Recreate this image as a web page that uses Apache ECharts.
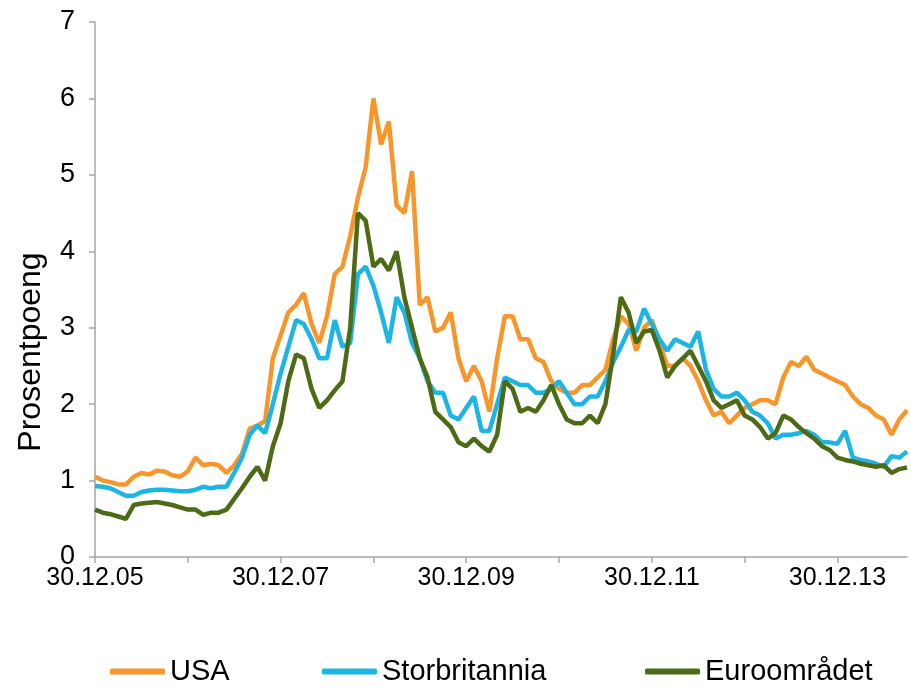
<!DOCTYPE html>
<html>
<head>
<meta charset="utf-8">
<script src="https://cdn.jsdelivr.net/npm/echarts@6/dist/echarts.min.js"></script>
<style>
  html, body { margin: 0; padding: 0; background: #fff; }
  #chart { width: 911px; height: 692px; }
</style>
</head>
<body>
<div id="chart"></div>
<script>
// monthly observations, first point 30.12.05
const startYear = 2005
const dates = []
for (let i = 0; i < 106; i++) {
  const m = (11 + i) % 12 + 1
  const y = startYear + Math.floor((11 + i) / 12)
  dates.push('30.' + String(m).padStart(2, '0') + '.' + String(y % 100).padStart(2, '0'))
}

const usa = [
  1.05, 1.00, 0.98, 0.95, 0.95, 1.05, 1.10, 1.08, 1.13, 1.12, 1.07, 1.05,
  1.12, 1.30, 1.20, 1.22, 1.20, 1.10, 1.20, 1.35, 1.68, 1.72, 1.78, 2.60,
  2.90, 3.20, 3.30, 3.45, 3.05, 2.80, 3.15, 3.70, 3.80, 4.20, 4.70, 5.10,
  6.00, 5.40, 5.70, 4.60, 4.50, 5.05, 3.30, 3.40, 2.95, 3.00, 3.20, 2.60,
  2.30, 2.50, 2.30, 1.90, 2.60, 3.15, 3.15, 2.85, 2.85, 2.60, 2.55, 2.30,
  2.20, 2.15, 2.15, 2.25, 2.25, 2.35, 2.45, 2.85, 3.15, 3.05, 2.70, 3.00,
  3.10, 2.80, 2.50, 2.50, 2.60, 2.50, 2.30, 2.05, 1.85, 1.90, 1.75, 1.85,
  1.95, 2.00, 2.05, 2.05, 2.00, 2.35, 2.55, 2.50, 2.62, 2.45, 2.40, 2.35,
  2.30, 2.25, 2.10, 2.00, 1.95, 1.85, 1.80, 1.60, 1.80, 1.92
]
const storbritannia = [
  0.93, 0.92, 0.90, 0.85, 0.80, 0.80, 0.85, 0.87, 0.88, 0.88, 0.87, 0.86,
  0.86, 0.88, 0.92, 0.90, 0.92, 0.92, 1.10, 1.30, 1.60, 1.72, 1.62, 2.00,
  2.40, 2.75, 3.10, 3.05, 2.85, 2.60, 2.60, 3.10, 2.75, 2.80, 3.70, 3.80,
  3.55, 3.20, 2.80, 3.40, 3.20, 2.80, 2.60, 2.30, 2.15, 2.15, 1.85, 1.80,
  1.95, 2.10, 1.65, 1.65, 2.00, 2.35, 2.30, 2.25, 2.25, 2.15, 2.15, 2.20,
  2.30, 2.15, 2.00, 2.00, 2.10, 2.10, 2.30, 2.55, 2.75, 2.97, 2.95, 3.25,
  3.05, 2.85, 2.70, 2.85, 2.80, 2.75, 2.95, 2.45, 2.20, 2.10, 2.10, 2.15,
  2.05, 1.90, 1.85, 1.75, 1.55, 1.60, 1.60, 1.62, 1.65, 1.60, 1.50, 1.50,
  1.48, 1.65, 1.30, 1.27, 1.25, 1.22, 1.18, 1.32, 1.30, 1.38
]
const euroomradet = [
  0.62, 0.58, 0.56, 0.53, 0.50, 0.68, 0.70, 0.71, 0.72, 0.70, 0.68, 0.65,
  0.62, 0.62, 0.55, 0.58, 0.58, 0.62, 0.76, 0.90, 1.05, 1.18, 1.00, 1.45,
  1.75, 2.30, 2.65, 2.60, 2.20, 1.95, 2.05, 2.18, 2.30, 3.00, 4.50, 4.40,
  3.80, 3.90, 3.75, 4.00, 3.40, 3.00, 2.60, 2.35, 1.90, 1.80, 1.70, 1.50,
  1.45, 1.55, 1.45, 1.38, 1.60, 2.30, 2.20, 1.90, 1.95, 1.90, 2.05, 2.25,
  2.00, 1.80, 1.75, 1.75, 1.85, 1.75, 2.00, 2.65, 3.40, 3.20, 2.80, 2.95,
  2.97, 2.70, 2.35, 2.50, 2.60, 2.70, 2.50, 2.30, 2.05, 1.95, 2.00, 2.05,
  1.85, 1.80, 1.70, 1.55, 1.62, 1.85, 1.80, 1.70, 1.62, 1.55, 1.45, 1.40,
  1.30, 1.27, 1.25, 1.22, 1.20, 1.18, 1.20, 1.10, 1.15, 1.17
]

const font = '"Liberation Sans", Arial, sans-serif'
const axisGrey = '#A6A6A6'

const chart = echarts.init(document.getElementById('chart'))

function legendAt(name, left) {
  return {
    data: [name],
    left: left,
    top: 652,
    icon: 'roundRect',
    itemWidth: 55,
    itemHeight: 6,
    itemGap: 5,
    textStyle: { fontFamily: font, fontSize: 29, color: '#000' }
  }
}

chart.setOption({
  animation: false,
  grid: { left: 95, right: 4, top: 22, bottom: 135 },
  legend: [
    legendAt('USA', 105),
    legendAt('Storbritannia', 317),
    legendAt('Euroområdet', 640)
  ],
  graphic: [{
    type: 'text',
    x: 31,
    y: 352,
    rotation: Math.PI / 2,
    style: {
      text: 'Prosentpoeng',
      fontFamily: font,
      fontSize: 32,
      fill: '#000',
      align: 'center',
      verticalAlign: 'middle'
    }
  }],
  xAxis: {
    type: 'category',
    data: dates,
    boundaryGap: false,
    axisLine: { lineStyle: { color: axisGrey, width: 1.5 } },
    axisTick: {
      interval: (i) => i % 12 === 0,
      length: 6,
      lineStyle: { color: axisGrey, width: 1.5 }
    },
    axisLabel: {
      interval: (i) => i % 24 === 0,
      fontFamily: font,
      fontSize: 25,
      color: '#000',
      margin: 9
    },
    splitLine: { show: false }
  },
  yAxis: {
    type: 'value',
    min: 0,
    max: 7,
    interval: 1,
    axisLine: { show: true, lineStyle: { color: axisGrey, width: 1.5 } },
    axisTick: { show: true, length: 6, lineStyle: { color: axisGrey, width: 1.5 } },
    axisLabel: { fontFamily: font, fontSize: 27, color: '#000', margin: 20 },
    splitLine: { show: false }
  },
  series: [
    {
      name: 'USA',
      type: 'line',
      data: usa,
      symbol: 'none',
      color: '#F7962A',
      lineStyle: { width: 4.5 }
    },
    {
      name: 'Storbritannia',
      type: 'line',
      data: storbritannia,
      symbol: 'none',
      color: '#1CB5E4',
      lineStyle: { width: 4.5 }
    },
    {
      name: 'Euroområdet',
      type: 'line',
      data: euroomradet,
      symbol: 'none',
      color: '#4D6A15',
      lineStyle: { width: 4.5 }
    }
  ]
})
</script>
</body>
</html>
